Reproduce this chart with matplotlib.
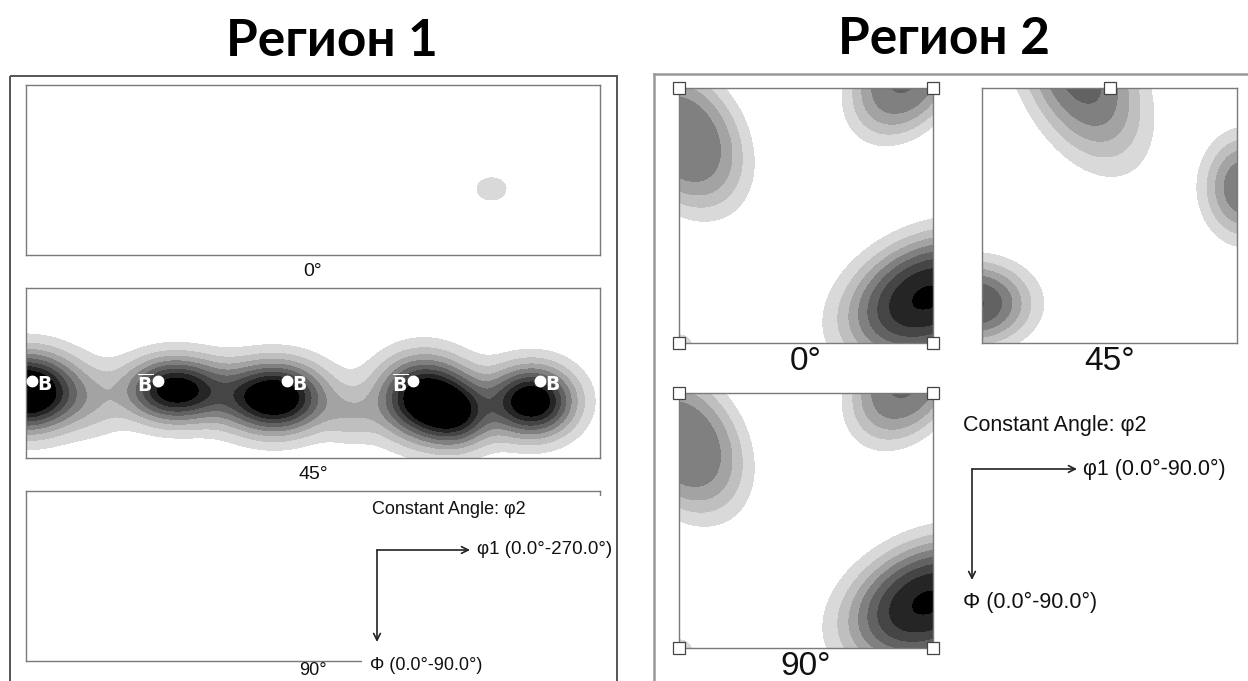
import numpy as np
import matplotlib
matplotlib.use("Agg")
from matplotlib import pyplot as plt
from matplotlib.patches import Rectangle

W, H = 1248, 681

# intensity levels and their grey fills
levels = [1, 2, 3, 4, 5, 6, 7, 8, 100]
greys = ['#d9d9d9', '#bfbfbf', '#a3a3a3', '#808080', '#626262', '#454545', '#252525', '#000000']

# --- Region 1 (phi1 0-270, Phi 0-90)
# peaks: phi1, Phi, height, width along, width across, tilt, profile exponent
r1_0_phi1 = [219]
r1_0_Phi = [55]
r1_0_h = [1.6]
r1_0_sa = [7]
r1_0_sb = [6]
r1_0_tilt = [0]
r1_0_p = [2]

r1_45_phi1 = [0, 33, 70, 117, 153, 187, 203, 238]
r1_45_Phi = [55, 62, 54, 58, 68, 58, 68, 60]
r1_45_h = [11, 1.2, 9, 10, 1.8, 9.3, 5, 9.5]
r1_45_sa = [17, 10, 16, 16.5, 9, 15, 11, 14]
r1_45_sb = [14, 13, 12, 13, 10, 15, 12, 13]
r1_45_tilt = [0, 0, 0, 0, 0, 20, 0, 0]
r1_45_p = [2, 2, 2, 2, 2, 2, 2, 2]

# B-orientation markers on the 45 deg section
b_phi1 = [3, 62, 123, 182, 242]
b_Phi = [49, 49, 49, 49, 49]
b_bar = [False, True, False, True, False]

# --- Region 2 (phi1 0-90, Phi 0-90)
r2_0_phi1 = [2, 80, 88, 0]
r2_0_Phi = [18, -4, 74, 92]
r2_0_h = [4.98, 5.1, 8.1, 1.6]
r2_0_sa = [21, 18, 22.5, 5]
r2_0_sb = [15, 13, 15, 5]
r2_0_tilt = [60, 126, 155, 0]
r2_0_p = [3, 3, 2.6, 2]

r2_45_phi1 = [34, 93, -3]
r2_45_Phi = [-6, 35, 76]
r2_45_h = [5.4, 5.0, 6.1]
r2_45_sa = [25, 13, 14.5]
r2_45_sb = [14, 10.5, 10.5]
r2_45_tilt = [64, 90, 0]
r2_45_p = [2.6, 2.4, 2.4]

# 90 deg section of region 2 is the same as the 0 deg one
r2_90_phi1, r2_90_Phi, r2_90_h = r2_0_phi1, r2_0_Phi, r2_0_h
r2_90_sa, r2_90_sb, r2_90_tilt, r2_90_p = r2_0_sa, r2_0_sb, r2_0_tilt, r2_0_p


def odf_field(xmax, pk):
    c1, c2, hh, sa, sb, tilt, pw = pk
    x = np.linspace(0, xmax, int(xmax * 3) + 1)
    y = np.linspace(0, 90, 271)
    X, Y = np.meshgrid(x, y)
    Z = np.zeros_like(X)
    for i in range(len(c1)):
        t = np.radians(tilt[i])
        dx, dy = X - c1[i], Y - c2[i]
        u = dx * np.cos(t) + dy * np.sin(t)
        v = -dx * np.sin(t) + dy * np.cos(t)
        r2 = (u / sa[i]) ** 2 + (v / sb[i]) ** 2
        Z += hh[i] * np.exp(-0.5 * r2 ** (pw[i] / 2))
    return X, Y, Z


def section(x0, y0, x1, y1, xmax, pk=None):
    ax = fig.add_axes([x0 / W, 1 - y1 / H, (x1 - x0) / W, (y1 - y0) / H])
    if pk is not None:
        X, Y, Z = odf_field(xmax, pk)
        ax.contourf(X, Y, Z, levels=levels, colors=greys)
    ax.set_xlim(0, xmax)
    ax.set_ylim(90, 0)
    ax.set_xticks([])
    ax.set_yticks([])
    for s in ax.spines.values():
        s.set_color('#7a7a7a')
        s.set_linewidth(1.0)
    return ax


def corners(ax, xs, ys):
    ax.plot(xs, ys, 's', ms=9, mfc='white', mec='#444444', mew=0.9,
            clip_on=False, zorder=20, ls='none')


plt.rcParams['mathtext.fontset'] = 'custom'
plt.rcParams['mathtext.bf'] = 'DejaVu Sans:bold'

fig = plt.figure(figsize=(W / 100, H / 100), dpi=100)
fig.patch.set_facecolor('white')

lab = dict(family='Liberation Sans', color='#111111')

# region 1 sections
a10 = section(26, 85, 600, 255, 270,
              (r1_0_phi1, r1_0_Phi, r1_0_h, r1_0_sa, r1_0_sb, r1_0_tilt, r1_0_p))
a145 = section(26, 288, 600, 458, 270,
               (r1_45_phi1, r1_45_Phi, r1_45_h, r1_45_sa, r1_45_sb, r1_45_tilt, r1_45_p))
a190 = section(26, 491, 600, 661, 270)

a145.plot(b_phi1, b_Phi, 'o', ms=7.5, color='white', zorder=10, clip_on=False)
for p, q, bar in zip(b_phi1, b_Phi, b_bar):
    if bar:
        a145.annotate(r'$\overline{\mathbf{B}}$', (p, q), xytext=(-3, -3), textcoords='offset points',
                      ha='right', va='center', color='white', fontsize=13.5)
    else:
        a145.annotate(r'$\mathbf{B}$', (p, q), xytext=(3, -3), textcoords='offset points',
                      ha='left', va='center', color='white', fontsize=13.5)

a10.text(0.5, -0.045, '0°', transform=a10.transAxes, ha='center', va='top', fontsize=14, **lab)
a145.text(0.5, -0.045, '45°', transform=a145.transAxes, ha='center', va='top', fontsize=14, **lab)
a190.text(0.5, -0.005, '90°', transform=a190.transAxes, ha='center', va='top', fontsize=13, **lab)

# region 2 sections
a20 = section(679, 88, 933, 343, 90,
              (r2_0_phi1, r2_0_Phi, r2_0_h, r2_0_sa, r2_0_sb, r2_0_tilt, r2_0_p))
a245 = section(982, 88, 1237, 343, 90,
               (r2_45_phi1, r2_45_Phi, r2_45_h, r2_45_sa, r2_45_sb, r2_45_tilt, r2_45_p))
a290 = section(679, 393, 933, 648, 90,
               (r2_90_phi1, r2_90_Phi, r2_90_h, r2_90_sa, r2_90_sb, r2_90_tilt, r2_90_p))
corners(a20, [0, 90, 0, 90], [0, 0, 90, 90])
corners(a290, [0, 90, 0, 90], [0, 0, 90, 90])
corners(a245, [45], [0])

for ax, t in [(a20, '0°'), (a245, '45°'), (a290, '90°')]:
    ax.text(0.5, -0.01, t, transform=ax.transAxes, ha='center', va='top', fontsize=24, **lab)

# overlay in pixel coordinates for frames, titles and axis legends
ov = fig.add_axes([0, 0, 1, 1])
ov.set_xlim(0, W)
ov.set_ylim(H, 0)
ov.axis('off')
ov.patch.set_alpha(0)
ov.set_zorder(10)

ov.add_patch(Rectangle((10, 76), 607, 620, fill=False, ec='#555555', lw=1.4))
ov.plot([654, 654], [74, H + 5], color='#999999', lw=1.8)
ov.plot([654, W + 5], [74, 74], color='#999999', lw=1.8)
# the legend block hides the lower right of the 90 deg box
ov.add_patch(Rectangle((362, 496), 250, 200, fc='white', ec='none'))

title = dict(family=['Lato', 'Open Sans', 'DejaVu Sans'], fontweight='bold', fontsize=37, color='black')
ov.text(332, 42, 'Регион 1', ha='center', va='center', **title)
ov.text(944, 40, 'Регион 2', ha='center', va='center', **title)

arr = dict(arrowstyle='->', lw=1.2, color='#222222', shrinkA=0, shrinkB=0, mutation_scale=12)

# region 1 legend
ov.text(372, 510, 'Constant Angle: φ2', ha='left', va='center', fontsize=13, **lab)
ov.annotate('', xy=(470, 550), xytext=(377, 550), arrowprops=arr)
ov.annotate('', xy=(377, 642), xytext=(377, 550), arrowprops=arr)
ov.text(477, 550, 'φ1 (0.0°-270.0°)', ha='left', va='center', fontsize=13.5, **lab)
ov.text(370, 666, 'Φ (0.0°-90.0°)', ha='left', va='center', fontsize=13, **lab)

# region 2 legend
ov.text(963, 425, 'Constant Angle: φ2', ha='left', va='center', fontsize=15.5, **lab)
ov.annotate('', xy=(1077, 469), xytext=(972, 469), arrowprops=arr)
ov.annotate('', xy=(972, 580), xytext=(972, 469), arrowprops=arr)
ov.text(1083, 469, 'φ1 (0.0°-90.0°)', ha='left', va='center', fontsize=15.5, **lab)
ov.text(963, 602, 'Φ (0.0°-90.0°)', ha='left', va='center', fontsize=15.5, **lab)

fig.savefig('out.png', dpi=100)
